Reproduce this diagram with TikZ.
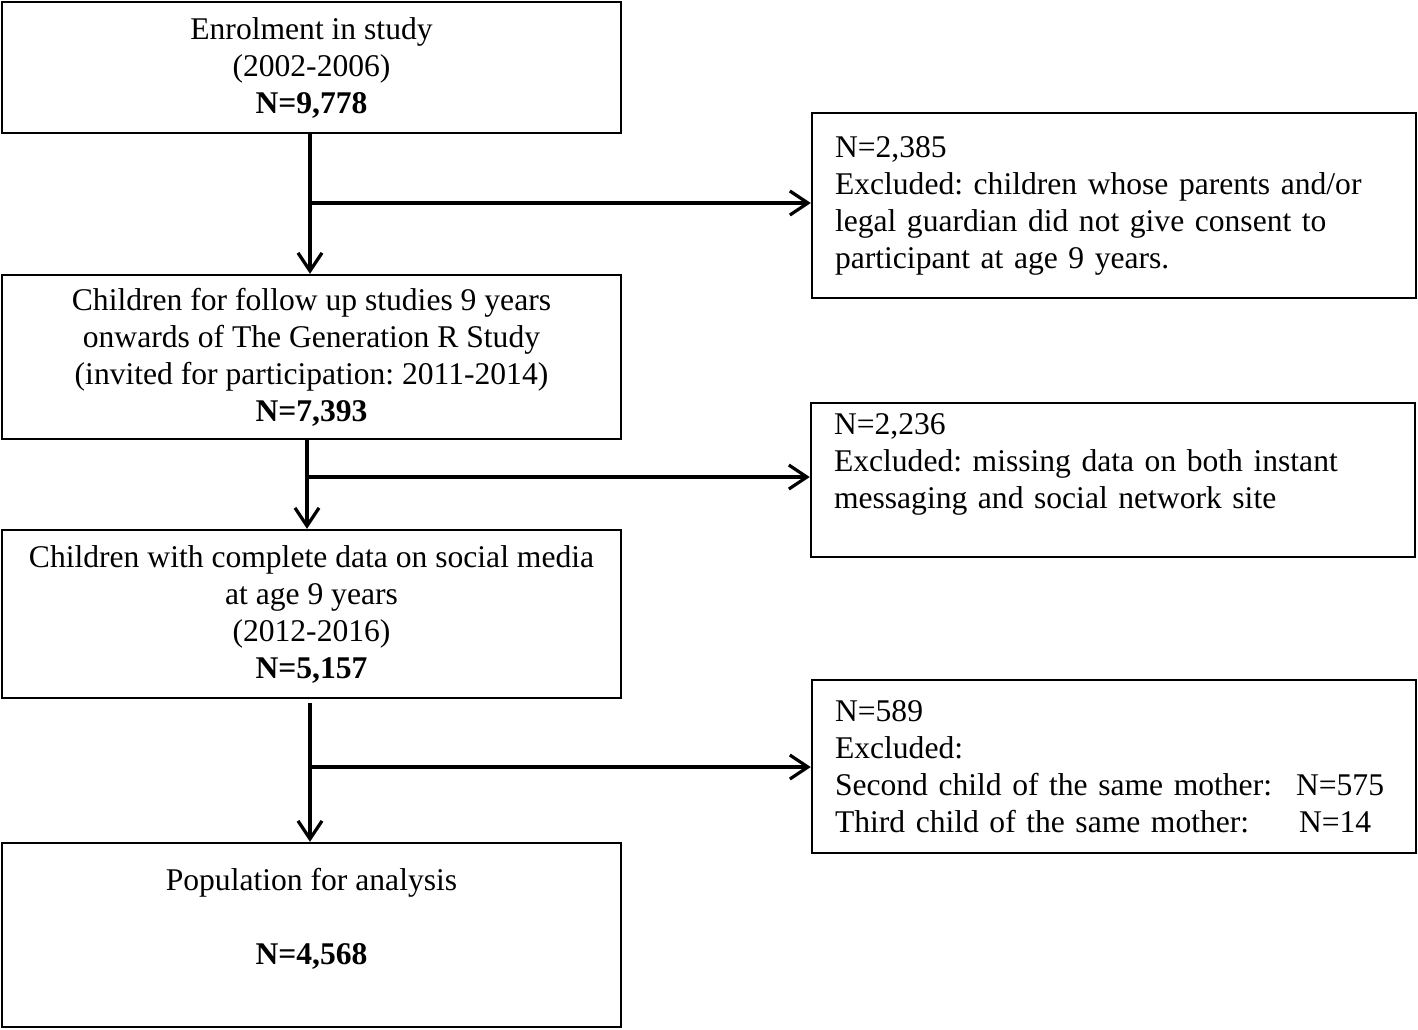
\documentclass[tikz,border=0pt]{standalone}
\usepackage{fontspec}
\setmainfont{Liberation Serif}
\usepackage{tikz}
\usetikzlibrary{arrows.meta}
\frenchspacing
\tikzset{
	txt/.style={font=\fontsize{15.8}{18.5}\selectfont},
	stagebox/.style={txt,draw,line width=1.25pt,align=center,minimum width=309.5pt,inner sep=0pt},
	exclbox/.style={txt,draw,line width=1.25pt,align=left,text width=279pt,inner xsep=11.5pt,inner ysep=0pt},
	arr/.style={line width=1.6pt,-{Straight Barb[length=9pt,width=12pt,line width=1.6pt]}}
}

\begin{document}
\begin{tikzpicture}[x=0.5pt,y=-0.5pt]
\useasboundingbox (0,0) rectangle (1418,1029);

%Boites principales
\node[stagebox,minimum height=65.5pt] (enrol) at (311.5,67.5) {Enrolment in study\\ (2002-2006)\\ \textbf{N=9,778}};
\node[stagebox,minimum height=82pt] (invited) at (311.5,357) {Children for follow up studies 9 years\\ onwards of The Generation R Study\\ (invited for participation: 2011-2014)\\ \textbf{N=7,393}};
\node[stagebox,minimum height=84pt] (complete) at (311.5,614) {Children with complete data on social media\\ at age 9 years\\ (2012-2016)\\ \textbf{N=5,157}};
\node[stagebox,minimum height=92pt] (analysis) at (311.5,935) {Population for analysis\\ \\ \textbf{N=4,568}\\ \mbox{}};

%Boites d'exclusion
\node[exclbox,minimum height=92.5pt] (exclA) at (1114,205.5) {N=2,385\\ Excluded: children whose parents and/or\\ legal guardian did not give consent to\\ participant at age 9 years.};
\node[exclbox,minimum height=77pt] (exclB) at (1113,480) {N=2,236\\ Excluded: missing data on both instant\\ messaging and social network site\\ \mbox{}};
\node[exclbox,minimum height=86.5pt] (exclC) at (1114,766.5) {N=589\\ Excluded:\\ \makebox[230.5pt][l]{Second child of the same mother:}N=575\\ \makebox[232pt][l]{Third child of the same mother:}N=14};

%Points de branchement
\coordinate (jA) at (310,203);
\coordinate (jB) at (307,477);
\coordinate (jC) at (310,767);

%Fleches
\draw[arr] (enrol.south -| jA) -- (invited.north -| jA);
\draw[arr] (invited.south -| jB) -- (complete.north -| jB);
\draw[arr] (310,703) -- (analysis.north -| jC);
\draw[arr] (jA) -- (jA -| exclA.west);
\draw[arr] (jB) -- (jB -| exclB.west);
\draw[arr] (jC) -- (jC -| exclC.west);

\end{tikzpicture}
\end{document}
